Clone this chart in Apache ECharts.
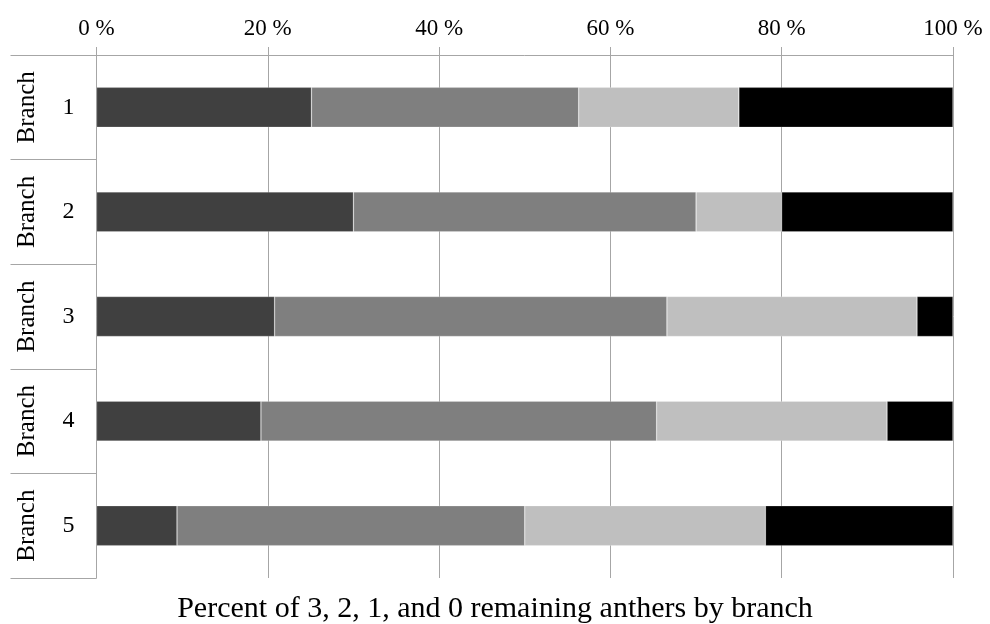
<!DOCTYPE html>
<html>
<head>
<meta charset="utf-8">
<script src="https://cdn.jsdelivr.net/npm/echarts@6/dist/echarts.min.js"></script>
<style>
  html, body { margin: 0; padding: 0; background: #fff; }
  #chart { width: 990px; height: 624px; }
</style>
</head>
<body>
<div id="chart"></div>
<script>
// Share of flowers with 3, 2, 1 and 0 anthers remaining, per branch (percent)
const branches = ['1', '2', '3', '4', '5'];
const branchWord = ['Branch', 'Branch', 'Branch', 'Branch', 'Branch'];
const threeLeft = [25.1, 30.0, 20.8, 19.2, 9.4];
const twoLeft   = [31.2, 40.0, 45.8, 46.2, 40.6];
const oneLeft   = [18.7, 10.0, 29.2, 26.9, 28.1];
const noneLeft  = [25.0, 20.0, 4.2, 7.7, 21.9];
const percentTicks = [0, 20, 40, 60, 80, 100];

const serif = '"Liberation Serif", "Times New Roman", serif';
const lineGrey = '#a6a6a6';

const chart = echarts.init(document.getElementById('chart'), null, { renderer: 'canvas' });

function stackSeries(name, values, color) {
  return {
    name: name,
    type: 'bar',
    stack: 'total',
    yAxisIndex: 0,
    barWidth: 40,
    itemStyle: { color: color, borderColor: 'rgba(255,255,255,0.35)', borderWidth: 0.6 },
    emphasis: { disabled: true },
    data: values
  };
}

chart.setOption({
  animation: false,
  backgroundColor: '#ffffff',
  title: {
    text: 'Percent of 3, 2, 1, and 0 remaining anthers by branch',
    left: 'center',
    top: 589,
    textStyle: { fontFamily: serif, fontSize: 30, fontWeight: 'normal', color: '#000' }
  },
  grid: { left: 96.5, right: 37, top: 55, bottom: 46, containLabel: false },
  xAxis: {
    type: 'value',
    position: 'top',
    min: percentTicks[0],
    max: percentTicks[percentTicks.length - 1],
    interval: percentTicks[1] - percentTicks[0],
    axisLine: { show: true, lineStyle: { color: lineGrey, width: 1 } },
    axisTick: { show: true, length: 8, lineStyle: { color: lineGrey } },
    splitLine: { show: true, lineStyle: { color: lineGrey, width: 1 } },
    axisLabel: {
      formatter: '{value} %',
      fontFamily: serif,
      fontSize: 23,
      color: '#000',
      margin: 15
    }
  },
  yAxis: [
    {
      type: 'category',
      data: branches,
      inverse: true,
      position: 'left',
      axisLine: { show: true, lineStyle: { color: lineGrey, width: 1 } },
      axisTick: { show: true, length: 86, interval: 0, lineStyle: { color: lineGrey } },
      splitLine: { show: false },
      axisLabel: {
        fontFamily: serif,
        fontSize: 24,
        color: '#000',
        margin: 22
      }
    },
    {
      type: 'category',
      data: branchWord,
      inverse: true,
      position: 'left',
      axisLine: { show: false },
      axisTick: { show: false },
      splitLine: { show: false },
      axisLabel: {
        fontFamily: serif,
        fontSize: 25,
        color: '#000',
        rotate: 90,
        margin: 57,
        interval: 0
      }
    }
  ],
  series: [
    stackSeries('3 remaining', threeLeft, '#404040'),
    stackSeries('2 remaining', twoLeft, '#7f7f7f'),
    stackSeries('1 remaining', oneLeft, '#bfbfbf'),
    stackSeries('0 remaining', noneLeft, '#000000')
  ]
});
</script>
</body>
</html>
